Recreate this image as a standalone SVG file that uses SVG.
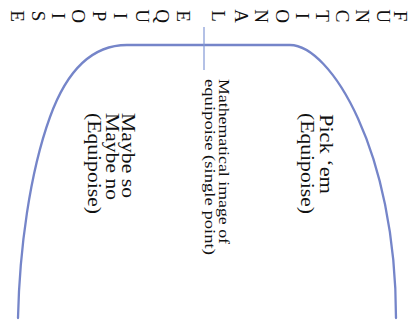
<svg xmlns="http://www.w3.org/2000/svg" width="417" height="328" viewBox="0 0 417 328">
<style>
.t{font-family:"Liberation Serif","Times New Roman",serif;fill:#111;}
.big{font-size:19px;}
.small{font-size:14.5px;}
.ax{font-family:"Liberation Serif","Times New Roman",serif;font-size:19px;fill:#111;text-anchor:middle;}
.curve{fill:none;stroke:#7585C9;stroke-width:2.3;stroke-linecap:round;}
.tick{stroke:#8298D6;stroke-width:1.2;}
</style>
<rect width="417" height="328" fill="#fff"/>
<g id="axis-label">
<text class="ax" x="394" y="16" transform="rotate(90 394 16)">F</text>
<text class="ax" x="377" y="16" transform="rotate(90 377 16)">U</text>
<text class="ax" x="356" y="16" transform="rotate(90 356 16)">N</text>
<text class="ax" x="336" y="16" transform="rotate(90 336 16)">C</text>
<text class="ax" x="316" y="16" transform="rotate(90 316 16)">T</text>
<text class="ax" x="296" y="16" transform="rotate(90 296 16)">I</text>
<text class="ax" x="276" y="16" transform="rotate(90 276 16)">O</text>
<text class="ax" x="255" y="16" transform="rotate(90 255 16)">N</text>
<text class="ax" x="235" y="16" transform="rotate(90 235 16)">A</text>
<text class="ax" x="212" y="16" transform="rotate(90 212 16)">L</text>
<text class="ax" x="177" y="16" transform="rotate(90 177 16)">E</text>
<text class="ax" x="156" y="16" transform="rotate(90 156 16)">Q</text>
<text class="ax" x="136" y="16" transform="rotate(90 136 16)">U</text>
<text class="ax" x="114" y="16" transform="rotate(90 114 16)">I</text>
<text class="ax" x="93" y="16" transform="rotate(90 93 16)">P</text>
<text class="ax" x="72" y="16" transform="rotate(90 72 16)">O</text>
<text class="ax" x="52" y="16" transform="rotate(90 52 16)">I</text>
<text class="ax" x="32" y="16" transform="rotate(90 32 16)">S</text>
<text class="ax" x="11" y="16" transform="rotate(90 11 16)">E</text>
</g>
<g id="curve">
<path class="curve" d="M18,318 C19.5,250 29.6,173.4 50,117 C63.6,79.4 87,45 127,45 L290,45 C330,45 396,150 396,318"/>
</g>
<g id="connectors">
<line class="tick" x1="204" y1="27" x2="204" y2="70"/>
</g>
<g id="single-point">
<text class="t small" x="219" y="79" transform="rotate(90 219 79)" textLength="165" lengthAdjust="spacingAndGlyphs">Mathematical image of</text>
<text class="t small" x="204.5" y="79" transform="rotate(90 204.5 79)" textLength="176" lengthAdjust="spacingAndGlyphs">equipoise (single point)</text>
</g>
<g id="pick-em">
<text class="t big" x="319.5" y="114" transform="rotate(90 319.5 114)" textLength="80" lengthAdjust="spacingAndGlyphs">Pick ‘em</text>
<text class="t big" x="301" y="113" transform="rotate(90 301 113)" textLength="101" lengthAdjust="spacingAndGlyphs">(Equipoise)</text>
</g>
<g id="maybe">
<text class="t big" x="122" y="113" transform="rotate(90 122 113)" textLength="85" lengthAdjust="spacingAndGlyphs">Maybe so</text>
<text class="t big" x="105.5" y="113" transform="rotate(90 105.5 113)" textLength="87" lengthAdjust="spacingAndGlyphs">Maybe no</text>
<text class="t big" x="88" y="113" transform="rotate(90 88 113)" textLength="101" lengthAdjust="spacingAndGlyphs">(Equipoise)</text>
</g>
</svg>
